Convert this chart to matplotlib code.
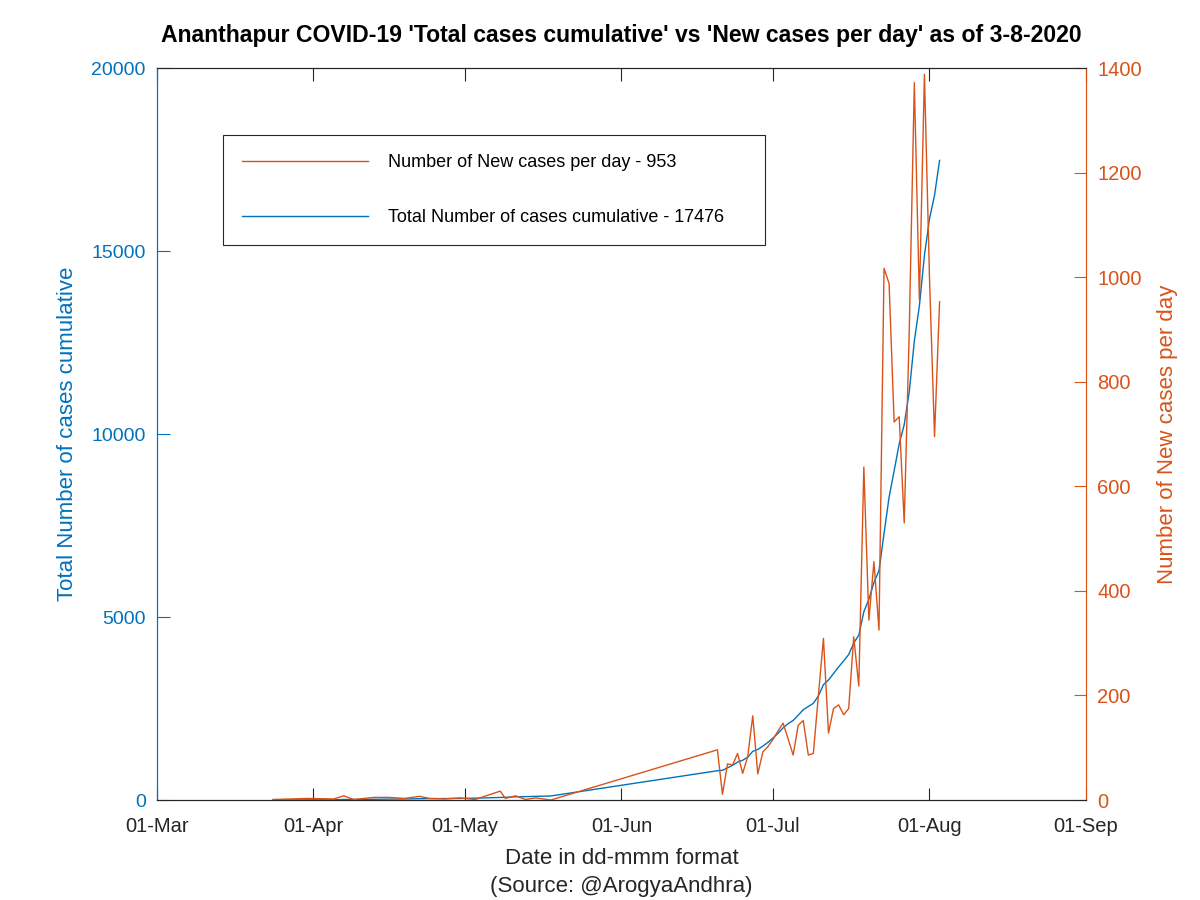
import matplotlib
matplotlib.use("Agg")
import matplotlib.pyplot as plt
import matplotlib.dates as mdates
import numpy as np
import pandas as pd

plt.rcParams['font.family'] = ['Liberation Sans', 'DejaVu Sans']

# daily data (gaps in the source are kept as gaps)
dates = ['2020-03-24', '2020-03-31', '2020-04-05', '2020-04-07', '2020-04-09',
         '2020-04-13', '2020-04-16', '2020-04-19', '2020-04-22', '2020-04-24',
         '2020-04-27', '2020-04-30', '2020-05-03', '2020-05-08', '2020-05-09',
         '2020-05-11', '2020-05-13', '2020-05-15', '2020-05-18',
         '2020-06-20', '2020-06-21', '2020-06-22', '2020-06-23', '2020-06-24',
         '2020-06-25', '2020-06-26', '2020-06-27', '2020-06-28', '2020-06-29',
         '2020-06-30', '2020-07-01', '2020-07-02', '2020-07-03', '2020-07-04',
         '2020-07-05', '2020-07-06', '2020-07-07', '2020-07-08', '2020-07-09',
         '2020-07-10', '2020-07-11', '2020-07-12', '2020-07-13', '2020-07-14',
         '2020-07-15', '2020-07-16', '2020-07-17', '2020-07-18', '2020-07-19',
         '2020-07-20', '2020-07-21', '2020-07-22', '2020-07-23', '2020-07-24',
         '2020-07-25', '2020-07-26', '2020-07-27', '2020-07-28', '2020-07-29',
         '2020-07-30', '2020-07-31', '2020-08-01', '2020-08-02', '2020-08-03']

new_cases = [1, 3, 2, 8, 1,
             5, 5, 3, 7, 3,
             2, 4, 1, 17, 3,
             8, 1, 4, 0,
             96, 11, 69, 67, 89,
             51, 83, 161, 50, 92,
             102, 116, 132, 147, 117,
             86, 143, 152, 86, 89,
             200, 309, 128, 175, 182,
             163, 175, 312, 218, 637,
             344, 456, 325, 1017, 988,
             723, 733, 530, 900, 1372,
             956, 1388, 1000, 695, 953]

total_cases = [1, 4, 6, 14, 15,
               20, 25, 28, 35, 38,
               40, 44, 50, 70, 75,
               88, 92, 100, 110,
               800, 811, 880, 947, 1036,
               1087, 1170, 1331, 1381, 1473,
               1575, 1691, 1823, 1970, 2087,
               2173, 2316, 2468, 2554, 2643,
               2843, 3152, 3280, 3455, 3637,
               3800, 3975, 4287, 4505, 5142,
               5486, 5942, 6267, 7284, 8272,
               8995, 9728, 10258, 11160, 12540,
               13500, 14880, 15880, 16523, 17476]

x = pd.to_datetime(dates)
blue = (0, 114/255, 189/255)
orange = (217/255, 83/255, 25/255)
dark = '#262626'

fig = plt.figure(figsize=(12, 9), dpi=100)
ax = fig.add_axes([0.1308, 0.1111, 0.7742, 0.8133])
ax2 = ax.twinx()

lb, = ax.plot(x, total_cases, color=blue, lw=1.0,
              label='Total Number of cases cumulative - 17476')
lo, = ax2.plot(x, new_cases, color=orange, lw=1.0,
               label='Number of New cases per day - 953')

ax.set_xlim(pd.Timestamp('2020-03-01'), pd.Timestamp('2020-09-01'))
ax.set_ylim(0, 20000)
ax2.set_ylim(0, 1400)
ax.set_yticks([0, 5000, 10000, 15000, 20000])
ax2.set_yticks(np.arange(0, 1401, 200))
ax.xaxis.set_major_locator(mdates.MonthLocator())
ax.xaxis.set_major_formatter(mdates.DateFormatter('%d-%b'))

ax.tick_params(axis='x', direction='in', length=9, top=True, labelsize=14.5,
               colors=dark, pad=12)
ax.tick_params(axis='y', direction='in', length=9, labelsize=14,
               colors=blue, pad=8)
ax2.tick_params(axis='y', direction='in', length=9, labelsize=14.5,
                colors=orange, pad=8)
for a in (ax, ax2):
    a.spines['top'].set_color(dark)
    a.spines['bottom'].set_color(dark)
    a.spines['left'].set_color(blue)
    a.spines['right'].set_color(orange)

ax.set_ylabel('Total Number of cases cumulative', color=blue, fontsize=16,
              labelpad=10)
ax2.set_ylabel('Number of New cases per day', color=orange, fontsize=16,
               labelpad=11)
ax.set_xlabel('Date in dd-mmm format\n(Source: @ArogyaAndhra)', color=dark,
              fontsize=16, labelpad=9, linespacing=1.45)
ax.set_title("Ananthapur COVID-19 'Total cases cumulative' vs 'New cases per day' as of 3-8-2020",
             fontsize=16.6, fontweight='bold', pad=19)

leg = ax2.legend(handles=[lo, lb], loc='upper left',
                 bbox_to_anchor=(0.071, 0.761, 0.583, 0.147), mode='expand',
                 borderaxespad=0, fontsize=13, handlelength=7.0,
                 handletextpad=1.1, labelspacing=2.1, borderpad=1.05,
                 fancybox=False, framealpha=1, edgecolor=dark)
leg.get_frame().set_linewidth(0.8)

fig.savefig('out.png', dpi=100)
